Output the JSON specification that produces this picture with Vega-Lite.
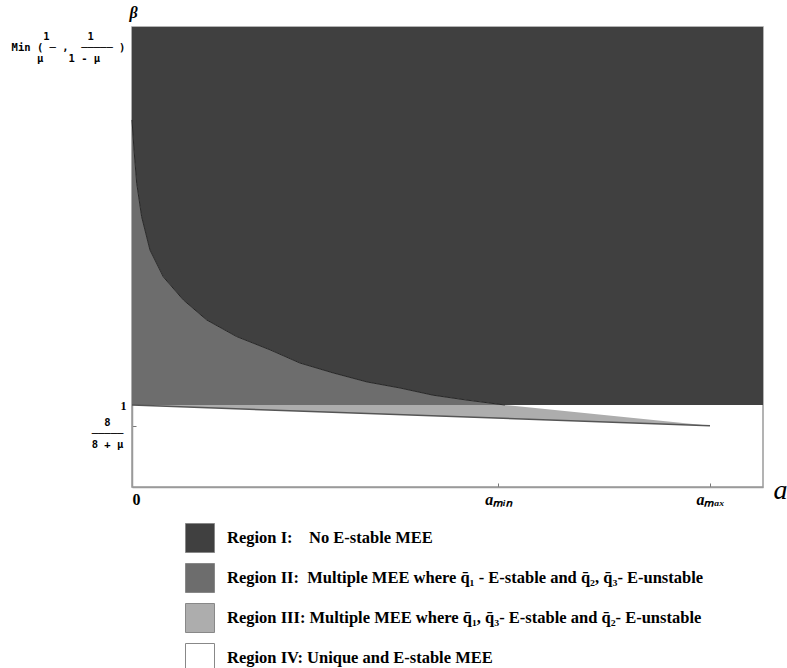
{
  "$schema": "https://vega.github.io/schema/vega-lite/v6.json",
  "width": 631,
  "height": 460,
  "autosize": {"type": "none"},
  "padding": {"left": 132, "top": 27, "right": 24, "bottom": 181},
  "background": "white",
  "config": {"view": {"stroke": "#9a9a9a", "strokeWidth": 1.5}},
  "datasets": {
    "regions": [
      {"region": "I", "x": 0, "lo": 1.754, "hi": 2},
      {"region": "I", "x": 0.0035, "lo": 1.675, "hi": 2},
      {"region": "I", "x": 0.0081, "lo": 1.587, "hi": 2},
      {"region": "I", "x": 0.0167, "lo": 1.498, "hi": 2},
      {"region": "I", "x": 0.0311, "lo": 1.41, "hi": 2},
      {"region": "I", "x": 0.0542, "lo": 1.339, "hi": 2},
      {"region": "I", "x": 0.0888, "lo": 1.278, "hi": 2},
      {"region": "I", "x": 0.1292, "lo": 1.225, "hi": 2},
      {"region": "I", "x": 0.1811, "lo": 1.181, "hi": 2},
      {"region": "I", "x": 0.2388, "lo": 1.146, "hi": 2},
      {"region": "I", "x": 0.2907, "lo": 1.111, "hi": 2},
      {"region": "I", "x": 0.3478, "lo": 1.085, "hi": 2},
      {"region": "I", "x": 0.4066, "lo": 1.061, "hi": 2},
      {"region": "I", "x": 0.4637, "lo": 1.045, "hi": 2},
      {"region": "I", "x": 0.5208, "lo": 1.026, "hi": 2},
      {"region": "I", "x": 0.5796, "lo": 1.013, "hi": 2},
      {"region": "I", "x": 0.645, "lo": 1.0, "hi": 2},
      {"region": "I", "x": 1.0917, "lo": 1.0, "hi": 2},
      {"region": "II", "x": 0, "lo": 1, "hi": 1.754},
      {"region": "II", "x": 0.0035, "lo": 1, "hi": 1.675},
      {"region": "II", "x": 0.0081, "lo": 1, "hi": 1.587},
      {"region": "II", "x": 0.0167, "lo": 1, "hi": 1.498},
      {"region": "II", "x": 0.0311, "lo": 1, "hi": 1.41},
      {"region": "II", "x": 0.0542, "lo": 1, "hi": 1.339},
      {"region": "II", "x": 0.0888, "lo": 1, "hi": 1.278},
      {"region": "II", "x": 0.1292, "lo": 1, "hi": 1.225},
      {"region": "II", "x": 0.1811, "lo": 1, "hi": 1.181},
      {"region": "II", "x": 0.2388, "lo": 1, "hi": 1.146},
      {"region": "II", "x": 0.2907, "lo": 1, "hi": 1.111},
      {"region": "II", "x": 0.3478, "lo": 1, "hi": 1.085},
      {"region": "II", "x": 0.4066, "lo": 1, "hi": 1.061},
      {"region": "II", "x": 0.4637, "lo": 1, "hi": 1.045},
      {"region": "II", "x": 0.5208, "lo": 1, "hi": 1.026},
      {"region": "II", "x": 0.5796, "lo": 1, "hi": 1.013},
      {"region": "II", "x": 0.645, "lo": 1, "hi": 1.0},
      {"region": "III", "x": 0, "lo": 1, "hi": 1},
      {"region": "III", "x": 0.645, "lo": 0.9645, "hi": 1},
      {"region": "III", "x": 1, "lo": 0.945, "hi": 0.945}
    ],
    "upper": [
      {"x": 0, "lo": 1.754},
      {"x": 0.0035, "lo": 1.675},
      {"x": 0.0081, "lo": 1.587},
      {"x": 0.0167, "lo": 1.498},
      {"x": 0.0311, "lo": 1.41},
      {"x": 0.0542, "lo": 1.339},
      {"x": 0.0888, "lo": 1.278},
      {"x": 0.1292, "lo": 1.225},
      {"x": 0.1811, "lo": 1.181},
      {"x": 0.2388, "lo": 1.146},
      {"x": 0.2907, "lo": 1.111},
      {"x": 0.3478, "lo": 1.085},
      {"x": 0.4066, "lo": 1.061},
      {"x": 0.4637, "lo": 1.045},
      {"x": 0.5208, "lo": 1.026},
      {"x": 0.5796, "lo": 1.013},
      {"x": 0.645, "lo": 1.0}
    ],
    "lower": [
      {"x": 0, "lo": 1},
      {"x": 1, "lo": 0.945}
    ]
  },
  "layer": [
    {
      "data": {"name": "regions"},
      "mark": {"type": "area", "opacity": 1, "interpolate": "linear"},
      "encoding": {
        "x": {
          "field": "x",
          "type": "quantitative",
          "scale": {"domain": [0, 1.0917], "nice": false, "zero": false},
          "axis": {
            "values": [0, 0.6332, 1],
            "labelExpr": "datum.value == 0 ? '0' : (datum.value < 0.9 ? 'a\u2098\u1d62\u2099' : 'a\u2098\u2090\u2093')",
            "labelFont": "Liberation Serif",
            "labelFontWeight": "bold",
            "labelFontStyle": {"condition": {"test": "datum.value > 0", "value": "italic"}, "value": "normal"},
            "labelFontSize": 16,
            "labelColor": "black",
            "labelBaseline": "top",
            "labelPadding": 8,
            "labelOverlap": false,
            "tickSize": -4,
            "tickColor": "#777777",
            "tickOpacity": {"condition": {"test": "datum.value > 0", "value": 1}, "value": 0},
            "domainColor": "#9a9a9a",
            "domainWidth": 1.5,
            "grid": false,
            "title": "a",
            "titleFont": "Liberation Serif",
            "titleFontStyle": "italic",
            "titleFontWeight": "normal",
            "titleFontSize": 28,
            "titleColor": "black",
            "titleX": 648,
            "titleY": 3,
            "titleAlign": "center",
            "titleBaseline": "middle"
          }
        },
        "y": {
          "field": "lo",
          "type": "quantitative",
          "stack": null,
          "scale": {"domain": [0.7831, 2], "nice": false, "zero": false},
          "axis": {
            "values": [0.945, 1, 1.976],
            "labelExpr": "datum.value > 1.5 ? ['\u00a0\u00a0\u00a0\u00a0\u00a0\u00a01\u00a0\u00a0\u00a0\u00a0\u00a0\u00a01\u00a0\u00a0\u00a0\u00a0', 'Min\u00a0(\u00a0\u2500\u00a0,\u00a0\u00a0\u2500\u2500\u2500\u2500\u2500\u00a0)', '\u00a0\u00a0\u00a0\u00a0\u00a0\u00a0\u03bc\u00a0\u00a0\u00a0\u00a01\u00a0-\u00a0\u03bc\u00a0\u00a0'] : (datum.value > 0.99 ? '1' : ['\u00a0\u00a08\u00a0\u00a0', '\u2500\u2500\u2500\u2500\u2500', '8\u00a0+\u00a0\u03bc'])",
            "labelFont": {"condition": {"test": "datum.value > 0.99 && datum.value < 1.01", "value": "Liberation Serif"}, "value": "DejaVu Sans Mono"},
            "labelFontWeight": "bold",
            "labelFontSize": {"condition": {"test": "datum.value > 0.99 && datum.value < 1.01", "value": 12}, "value": 10.5},
            "labelColor": "black",
            "labelAlign": {"condition": {"test": "datum.value > 0.99 && datum.value < 1.01", "value": "right"}, "value": "center"},
            "labelBaseline": "middle",
            "labelPadding": {"condition": [{"test": "datum.value > 1.5", "value": 68}, {"test": "datum.value < 0.99", "value": 29}], "value": 10},
            "labelOffset": {"condition": {"test": "datum.value < 0.99", "value": -3}, "value": 0},
            "labelLineHeight": 11,
            "labelOverlap": false,
            "labelFlush": false,
            "tickSize": -4,
            "tickColor": "#777777",
            "tickOpacity": {"condition": {"test": "datum.value < 0.99", "value": 1}, "value": 0},
            "domainColor": "#9a9a9a",
            "domainWidth": 1.5,
            "grid": false,
            "title": "\u03b2",
            "titleAngle": 0,
            "titleFont": "Liberation Serif",
            "titleFontStyle": "italic",
            "titleFontWeight": "bold",
            "titleFontSize": 16,
            "titleColor": "black",
            "titleX": 1,
            "titleY": -15,
            "titleAlign": "center",
            "titleBaseline": "middle"
          }
        },
        "y2": {"field": "hi"},
        "color": {
          "field": "region",
          "type": "nominal",
          "scale": {"domain": ["I", "II", "III", "IV"], "range": ["#404040", "#6d6d6d", "#adadad", "#ffffff"]},
          "legend": {
            "orient": "none",
            "legendX": 53,
            "legendY": 496,
            "title": null,
            "padding": 0,
            "direction": "vertical",
            "symbolType": "square",
            "symbolSize": 841,
            "symbolStrokeColor": "#888888",
            "symbolStrokeWidth": 1,
            "symbolOpacity": 1,
            "rowPadding": 6,
            "labelOffset": 12,
            "labelFont": "Liberation Serif",
            "labelFontWeight": "bold",
            "labelFontSize": 16.5,
            "labelColor": "black",
            "labelLimit": 700,
            "labelExpr": "datum.value == 'I' ? 'Region I:\u00a0\u00a0\u00a0\u00a0No E-stable MEE' : (datum.value == 'II' ? 'Region II:\u00a0\u00a0Multiple MEE where q\u0304\u2081 - E-stable and q\u0304\u2082, q\u0304\u2083- E-unstable' : (datum.value == 'III' ? 'Region III: Multiple MEE where q\u0304\u2081, q\u0304\u2083- E-stable and q\u0304\u2082- E-unstable' : 'Region IV: Unique and E-stable MEE'))"
          }
        }
      }
    },
    {
      "data": {"name": "upper"},
      "mark": {"type": "line", "color": "#262626", "strokeWidth": 1},
      "encoding": {
        "x": {"field": "x", "type": "quantitative"},
        "y": {"field": "lo", "type": "quantitative"}
      }
    },
    {
      "data": {"name": "lower"},
      "mark": {"type": "line", "color": "#555555", "strokeWidth": 1.5},
      "encoding": {
        "x": {"field": "x", "type": "quantitative"},
        "y": {"field": "lo", "type": "quantitative"}
      }
    }
  ]
}
